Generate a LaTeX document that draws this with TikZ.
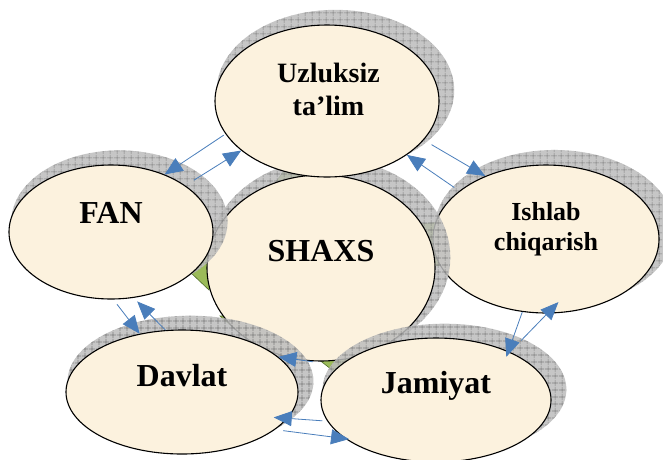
\documentclass[tikz,border=0pt]{standalone}
\usepackage{fontspec}
\setmainfont{Liberation Serif}
\usetikzlibrary{shapes.geometric,shadows,patterns.meta,arrows.meta}

\definecolor{creamfill}{RGB}{252,242,222}
\definecolor{shadegray}{RGB}{188,188,188}
\definecolor{gridgray}{RGB}{115,115,115}
\definecolor{linkblue}{RGB}{74,126,187}
\definecolor{wedgegreen}{RGB}{155,187,89}
\definecolor{wedgeedge}{RGB}{80,110,40}

\tikzset{
  sphere/.style={ellipse, draw=black, line width=1.1pt, fill=creamfill, inner sep=0pt,
    general shadow={shadow xshift=8pt, shadow yshift=10pt, shadow scale=1.06,
      fill=shadegray, fill opacity=0.85,
      postaction={pattern={Hatch[angle=0,distance=6.5pt,line width=0.6pt]}, pattern color=gridgray}}},
  bigtext/.style={font=\bfseries\fontsize{32}{36}\selectfont},
  smalltext/.style={font=\bfseries\fontsize{28}{33}\selectfont, align=center},
  link/.style={draw=linkblue, line width=0.8pt, -{Triangle[length=18pt,width=15pt]}},
  wedge/.style={fill=wedgegreen, draw=wedgeedge, line width=0.6pt},
}

\begin{document}
\begin{tikzpicture}[x=1pt,y=-1pt]
  \useasboundingbox (0,0) rectangle (663,459);
  \clip (0,0) rectangle (663,459);
  % green wedges behind the circle
  \draw[wedge] (188,270) -- (209,290) -- (214,250) -- cycle;
  \draw[wedge] (275,183) -- (292,160) -- (312,180) -- cycle;
  \draw[wedge] (418,224) -- (444,222) -- (444,266) -- (418,264) -- cycle;
  \draw[wedge] (220,316) -- (238,316) -- (252,344) -- cycle;
  \draw[wedge] (318,359) -- (362,357) -- (336,373) -- cycle;
  % the six ellipses
  \node[sphere, minimum width=226pt, minimum height=148pt,
    label={[smalltext, font=\bfseries\fontsize{26}{30}\selectfont, yshift=10pt]center:Ishlab\\chiqarish}] (ishlab) at (546,239) {};
  \node[sphere, minimum width=228pt, minimum height=186pt,
    label={[bigtext, yshift=16.5pt]center:SHAXS}] (shaxs) at (321,268) {};
  \node[sphere, minimum width=224pt, minimum height=152pt,
    label={[smalltext, yshift=12pt, xshift=1.5pt]center:Uzluksiz\\ta’lim}] (uzluksiz) at (327,101) {};
  \node[sphere, minimum width=204pt, minimum height=134pt,
    label={[bigtext, yshift=19.5pt]center:FAN}] (fan) at (111,232) {};
  \node[sphere, minimum width=232pt, minimum height=124pt,
    label={[bigtext, yshift=16pt]center:Davlat}] (davlat) at (182,392) {};
  \node[sphere, minimum width=230pt, minimum height=124pt,
    label={[bigtext, yshift=14pt]center:Jamiyat}] (jamiyat) at (436,400) {};
  % arrows between neighbours
  \draw[link, shorten <=2pt] (uzluksiz.198) -- (fan.47);
  \draw[link, shorten <=10pt] (fan.32) -- (uzluksiz.210);
  \draw[link, shorten <=9pt] (uzluksiz.338) -- (ishlab.134);
  \draw[link, shorten <=6pt] (ishlab.151) -- (uzluksiz.326);
  \draw[link, shorten >=-6pt] (ishlab.252) -- (jamiyat.34);
  \draw[link, shorten <=16pt, shorten >=-16pt] (jamiyat.33) -- (ishlab.271);
  \draw[link, shorten <=5pt, shorten >=-14pt] (jamiyat.191) -- (davlat.346);
  \draw[link, shorten <=8pt, shorten >=-4pt] (davlat.338) -- (jamiyat.203);
  \draw[link, shorten <=6pt] (fan.272) -- (davlat.126);
  \draw[link, shorten >=5pt] (davlat.105) -- (fan.289);
  \draw[link, shorten <=-10pt] (shaxs.259) -- (davlat.20);
\end{tikzpicture}
\end{document}
